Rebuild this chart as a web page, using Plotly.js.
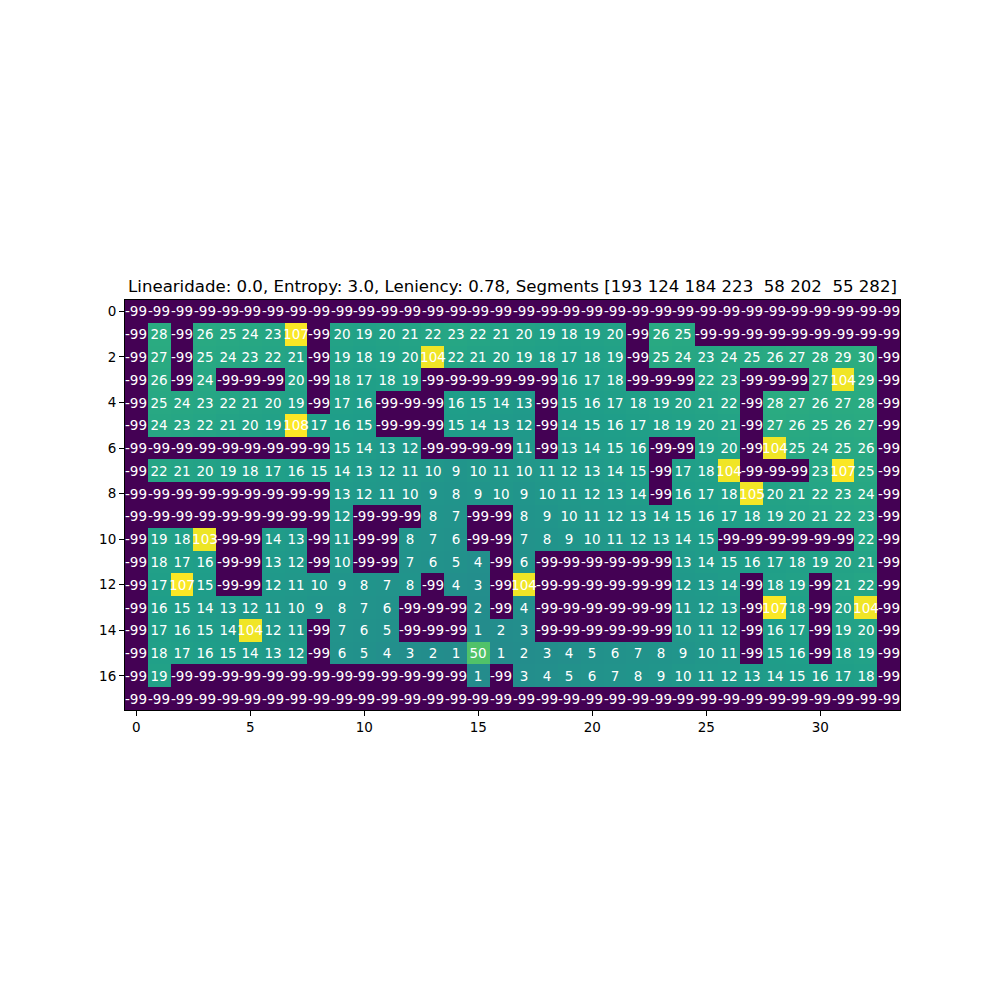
<!DOCTYPE html>
<html>
<head>
<meta charset="utf-8">
<script src="https://cdn.plot.ly/plotly-3.0.1.min.js"></script>
<style>html,body{margin:0;padding:0;background:#fff;}#chart{width:1000px;height:1000px;}</style>
</head>
<body>
<div id="chart"></div>
<script>
// Chart data
const row0  = [-99,-99,-99,-99,-99,-99,-99,-99,-99,-99,-99,-99,-99,-99,-99,-99,-99,-99,-99,-99,-99,-99,-99,-99,-99,-99,-99,-99,-99,-99,-99,-99,-99,-99];
const row1  = [-99,28,-99,26,25,24,23,107,-99,20,19,20,21,22,23,22,21,20,19,18,19,20,-99,26,25,-99,-99,-99,-99,-99,-99,-99,-99,-99];
const row2  = [-99,27,-99,25,24,23,22,21,-99,19,18,19,20,104,22,21,20,19,18,17,18,19,-99,25,24,23,24,25,26,27,28,29,30,-99];
const row3  = [-99,26,-99,24,-99,-99,-99,20,-99,18,17,18,19,-99,-99,-99,-99,-99,-99,16,17,18,-99,-99,-99,22,23,-99,-99,-99,27,104,29,-99];
const row4  = [-99,25,24,23,22,21,20,19,-99,17,16,-99,-99,-99,16,15,14,13,-99,15,16,17,18,19,20,21,22,-99,28,27,26,27,28,-99];
const row5  = [-99,24,23,22,21,20,19,108,17,16,15,-99,-99,-99,15,14,13,12,-99,14,15,16,17,18,19,20,21,-99,27,26,25,26,27,-99];
const row6  = [-99,-99,-99,-99,-99,-99,-99,-99,-99,15,14,13,12,-99,-99,-99,-99,11,-99,13,14,15,16,-99,-99,19,20,-99,104,25,24,25,26,-99];
const row7  = [-99,22,21,20,19,18,17,16,15,14,13,12,11,10,9,10,11,10,11,12,13,14,15,-99,17,18,104,-99,-99,-99,23,107,25,-99];
const row8  = [-99,-99,-99,-99,-99,-99,-99,-99,-99,13,12,11,10,9,8,9,10,9,10,11,12,13,14,-99,16,17,18,105,20,21,22,23,24,-99];
const row9  = [-99,-99,-99,-99,-99,-99,-99,-99,-99,12,-99,-99,-99,8,7,-99,-99,8,9,10,11,12,13,14,15,16,17,18,19,20,21,22,23,-99];
const row10 = [-99,19,18,103,-99,-99,14,13,-99,11,-99,-99,8,7,6,-99,-99,7,8,9,10,11,12,13,14,15,-99,-99,-99,-99,-99,-99,22,-99];
const row11 = [-99,18,17,16,-99,-99,13,12,-99,10,-99,-99,7,6,5,4,-99,6,-99,-99,-99,-99,-99,-99,13,14,15,16,17,18,19,20,21,-99];
const row12 = [-99,17,107,15,-99,-99,12,11,10,9,8,7,8,-99,4,3,-99,104,-99,-99,-99,-99,-99,-99,12,13,14,-99,18,19,-99,21,22,-99];
const row13 = [-99,16,15,14,13,12,11,10,9,8,7,6,-99,-99,-99,2,-99,4,-99,-99,-99,-99,-99,-99,11,12,13,-99,107,18,-99,20,104,-99];
const row14 = [-99,17,16,15,14,104,12,11,-99,7,6,5,-99,-99,-99,1,2,3,-99,-99,-99,-99,-99,-99,10,11,12,-99,16,17,-99,19,20,-99];
const row15 = [-99,18,17,16,15,14,13,12,-99,6,5,4,3,2,1,50,1,2,3,4,5,6,7,8,9,10,11,-99,15,16,-99,18,19,-99];
const row16 = [-99,19,-99,-99,-99,-99,-99,-99,-99,-99,-99,-99,-99,-99,-99,1,-99,3,4,5,6,7,8,9,10,11,12,13,14,15,16,17,18,-99];
const row17 = [-99,-99,-99,-99,-99,-99,-99,-99,-99,-99,-99,-99,-99,-99,-99,-99,-99,-99,-99,-99,-99,-99,-99,-99,-99,-99,-99,-99,-99,-99,-99,-99,-99,-99];

const xTicks = [0, 5, 10, 15, 20, 25, 30];
const yTicks = [0, 2, 4, 6, 8, 10, 12, 14, 16];
const titleText = "Linearidade: 0.0, Entropy: 3.0, Leniency: 0.78, Segments [193 124 184 223  58 202  55 282]";

const z = [row0,row1,row2,row3,row4,row5,row6,row7,row8,row9,row10,row11,row12,row13,row14,row15,row16,row17];
const nCols = row0.length;
const nRows = z.length;
const xs = Array.from({length: nCols}, (_, i) => i);
const ys = Array.from({length: nRows}, (_, i) => i);
// cell labels as plain strings (ASCII hyphen minus, like the reference)
const cellText = z.map(r => r.map(v => String(v)));

const viridis = [
  [0/9, '#440154'], [1/9, '#482878'], [2/9, '#3e4989'], [3/9, '#31688e'], [4/9, '#26828e'],
  [5/9, '#1f9e89'], [6/9, '#35b779'], [7/9, '#6ece58'], [8/9, '#b5de2b'], [9/9, '#fde725']
];

const trace = {
  type: 'heatmap',
  z: z, x: xs, y: ys,
  text: cellText,
  texttemplate: '%{text}',
  colorscale: viridis,
  zmin: -99, zmax: 108,
  showscale: false,
  xgap: 0, ygap: 0,
  textfont: {family: 'DejaVu Sans', size: 13.5, color: '#ffffff'},
  hoverinfo: 'z'
};

const axisCommon = {
  showgrid: false, zeroline: false,
  showline: true, linecolor: '#000', linewidth: 1, mirror: true,
  ticks: 'outside', ticklen: 5, tickwidth: 1, tickcolor: '#000',
  tickfont: {family: 'DejaVu Sans', size: 13.5, color: '#000'},
  tickmode: 'array'
};

const layout = {
  width: 1000, height: 1000,
  paper_bgcolor: '#fff', plot_bgcolor: '#fff',
  margin: {l: 125, r: 100, t: 300, b: 290, pad: 0},
  title: {
    text: titleText,
    font: {family: 'DejaVu Sans', size: 16.6, color: '#000'},
    x: 0.5125, xanchor: 'center',
    y: 0.714, yref: 'container', yanchor: 'middle'
  },
  xaxis: Object.assign({}, axisCommon, {
    range: [-0.5, nCols - 0.5], tickvals: xTicks, ticktext: xTicks.map(String)
  }),
  yaxis: Object.assign({}, axisCommon, {
    range: [nRows - 0.5, -0.5], tickvals: yTicks, ticktext: yTicks.map(String)
  }),
  showlegend: false
};

Plotly.newPlot('chart', [trace], layout, {displayModeBar: false, staticPlot: true});
</script>
</body>
</html>
